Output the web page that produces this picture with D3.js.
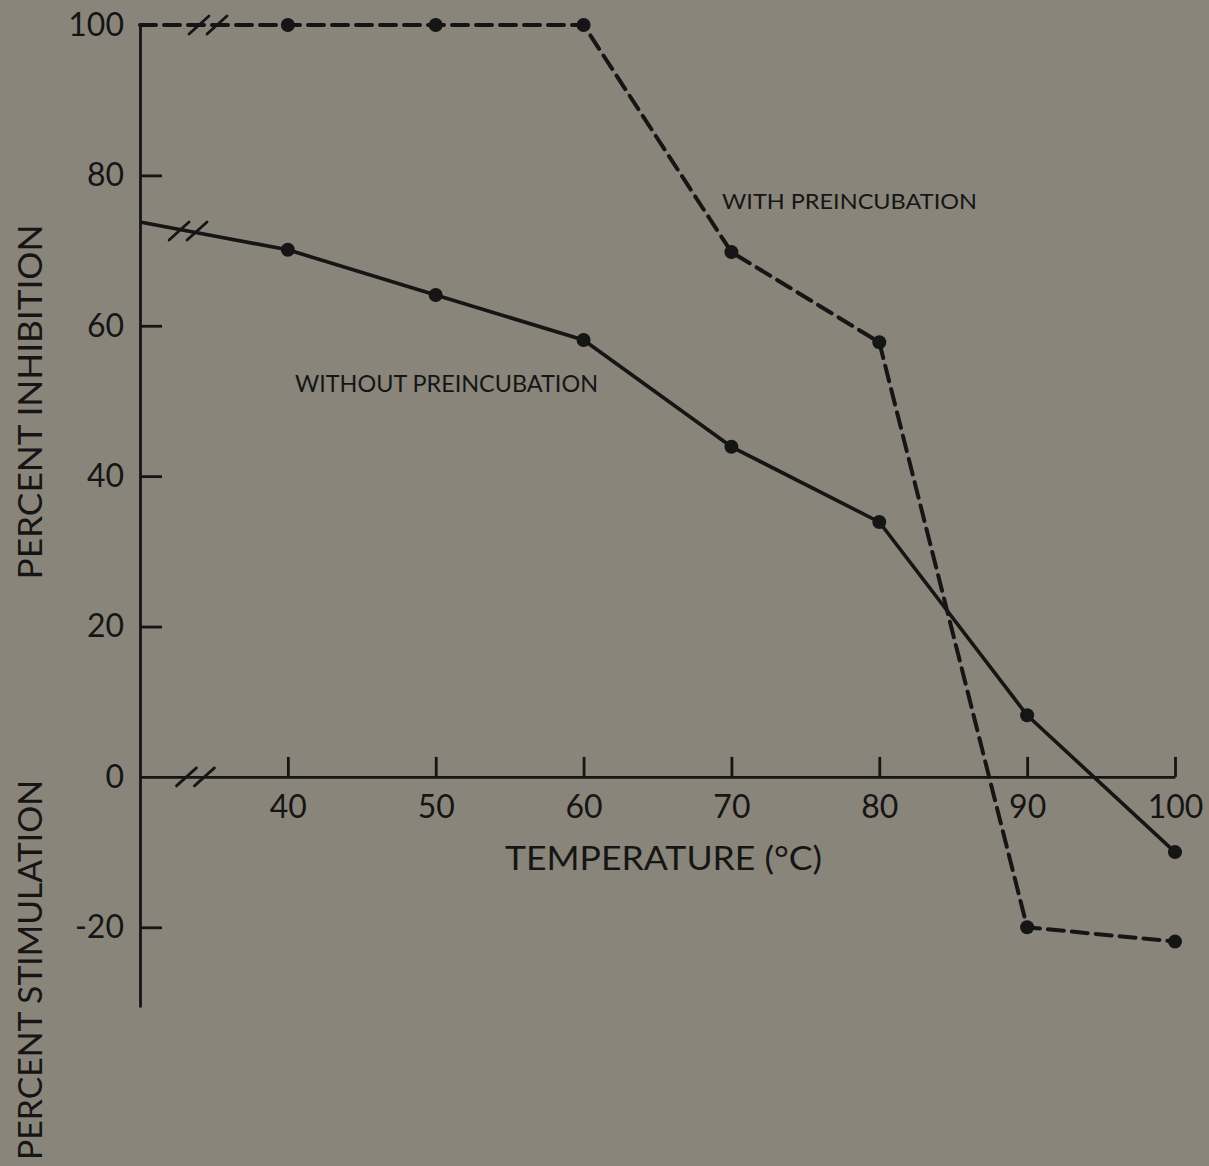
<!DOCTYPE html>
<html>
<head>
<meta charset="utf-8">
<script src="https://cdn.jsdelivr.net/npm/d3@7"></script>
<style>
  html, body { margin: 0; padding: 0; background: #8a857a; }
  svg { display: block; }
</style>
</head>
<body>
<svg id="chart" width="1209" height="1166"></svg>
<script>
// Temperatures (°C) at which activity was measured
const temperatures = [40, 50, 60, 70, 80, 90, 100];
// Percent inhibition (negative = stimulation)
const withoutPreincubation = [70.1, 64.1, 58.1, 43.9, 33.9, 8.2, -10.0];
const withPreincubation = [100, 100, 100, 69.8, 57.8, -20.0, -21.9];
// Where each curve meets the (broken) vertical axis
const axisStartTemp = 30;
const withoutStartValue = 73.8;
const withStartValue = 100;

const xTickValues = [40, 50, 60, 70, 80, 90, 100];
const yTickValues = [100, 80, 60, 40, 20, 0, -20];
const yAxisBottom = -30.6;

// Axis-break positions (temperature along each line)
const breakXAxis = 33.75;
const breakWithout = 33.25;
const breakWith = 34.6;

const ink = "#151515";
const svg = d3.select("#chart");

const x = d3.scaleLinear().domain([axisStartTemp, 100]).range([140, 1175]);
const y = d3.scaleLinear().domain([yAxisBottom, 100]).range([1007, 25]);

// Y axis: ticks point inward, no ticks drawn at 100 and 0
const yAxis = d3.axisLeft(y)
  .tickValues(yTickValues)
  .tickSizeInner(-22)
  .tickSizeOuter(0)
  .tickPadding(16)
  .tickFormat(d => d < 0 ? "-" + Math.abs(d) : String(d));

const gy = svg.append("g").attr("transform", `translate(${x(axisStartTemp)},0)`).call(yAxis);
gy.select(".domain").attr("stroke", ink).attr("stroke-width", 2.8);
gy.selectAll(".tick line").attr("stroke", ink).attr("stroke-width", 2.8)
  .attr("display", d => (d === 100 || d === 0) ? "none" : null);
gy.selectAll(".tick text")
  .attr("fill", ink)
  .style("font-family", "Lato, 'Open Sans', sans-serif")
  .style("font-size", "32px");

// X axis at zero: ticks point upward
const xAxis = d3.axisBottom(x)
  .tickValues(xTickValues)
  .tickSizeInner(-20)
  .tickSizeOuter(0)
  .tickPadding(18);

const gx = svg.append("g").attr("transform", `translate(0,${y(0)})`).call(xAxis);
gx.select(".domain").attr("stroke", ink).attr("stroke-width", 2.8);
gx.selectAll(".tick line").attr("stroke", ink).attr("stroke-width", 2.8);
gx.selectAll(".tick text")
  .attr("fill", ink)
  .style("font-family", "Lato, 'Open Sans', sans-serif")
  .style("font-size", "32px");

// Series
const seriesWithout = [{t: axisStartTemp, v: withoutStartValue}]
  .concat(temperatures.map((t, i) => ({t, v: withoutPreincubation[i]})));
const seriesWith = [{t: axisStartTemp, v: withStartValue}]
  .concat(temperatures.map((t, i) => ({t, v: withPreincubation[i]})));

const line = d3.line().x(d => x(d.t)).y(d => y(d.v));

svg.append("path")
  .datum(seriesWithout)
  .attr("d", line)
  .attr("fill", "none")
  .attr("stroke", ink)
  .attr("stroke-width", 3.6)
  .attr("stroke-linejoin", "round");

svg.append("path")
  .datum(seriesWith)
  .attr("d", line)
  .attr("fill", "none")
  .attr("stroke", ink)
  .attr("stroke-width", 4)
  .attr("stroke-dasharray", "16,8")
  .attr("stroke-linecap", "round");

// Data points
const pts = temperatures.map((t, i) => ({t, v: withoutPreincubation[i]}))
  .concat(temperatures.map((t, i) => ({t, v: withPreincubation[i]})));
svg.append("g").selectAll("circle")
  .data(pts)
  .join("circle")
  .attr("cx", d => x(d.t))
  .attr("cy", d => y(d.v))
  .attr("r", 7)
  .attr("fill", ink);

// Axis-break marks ("//")
function interp(series, t) {
  const a = series[0], b = series[1];
  return a.v + (b.v - a.v) * (t - a.t) / (b.t - a.t);
}
const breaks = [
  {t: breakXAxis, v: 0},
  {t: breakWithout, v: interp(seriesWithout, breakWithout)},
  {t: breakWith, v: withStartValue}
];
const gb = svg.append("g");
breaks.forEach(b => {
  const cx = x(b.t), cy = y(b.v);
  [-9, 9].forEach(off => {
    gb.append("line")
      .attr("x1", cx + off - 10).attr("y1", cy + 9)
      .attr("x2", cx + off + 10).attr("y2", cy - 9)
      .attr("stroke", ink).attr("stroke-width", 2.8)
      .attr("stroke-linecap", "round");
  });
});

// Text labels
const labelFont = "Lato, 'Open Sans', sans-serif";
svg.append("text")
  .attr("x", 722).attr("y", 209)
  .attr("textLength", 255).attr("lengthAdjust", "spacingAndGlyphs")
  .attr("fill", ink).style("font-family", labelFont).style("font-size", "22px")
  .text("WITH PREINCUBATION");

svg.append("text")
  .attr("x", 295).attr("y", 392)
  .attr("textLength", 303).attr("lengthAdjust", "spacingAndGlyphs")
  .attr("fill", ink).style("font-family", labelFont).style("font-size", "23px")
  .text("WITHOUT PREINCUBATION");

svg.append("text")
  .attr("x", 505).attr("y", 870)
  .attr("textLength", 317).attr("lengthAdjust", "spacingAndGlyphs")
  .attr("fill", ink).style("font-family", labelFont).style("font-size", "33px")
  .text("TEMPERATURE (°C)");

svg.append("text")
  .attr("transform", "translate(42,402) rotate(-90)")
  .attr("text-anchor", "middle")
  .attr("textLength", 355).attr("lengthAdjust", "spacingAndGlyphs")
  .attr("fill", ink).style("font-family", labelFont).style("font-size", "33px")
  .text("PERCENT INHIBITION");

svg.append("text")
  .attr("transform", "translate(42,970) rotate(-90)")
  .attr("text-anchor", "middle")
  .attr("textLength", 380).attr("lengthAdjust", "spacingAndGlyphs")
  .attr("fill", ink).style("font-family", labelFont).style("font-size", "33px")
  .text("PERCENT STIMULATION");
</script>
</body>
</html>
